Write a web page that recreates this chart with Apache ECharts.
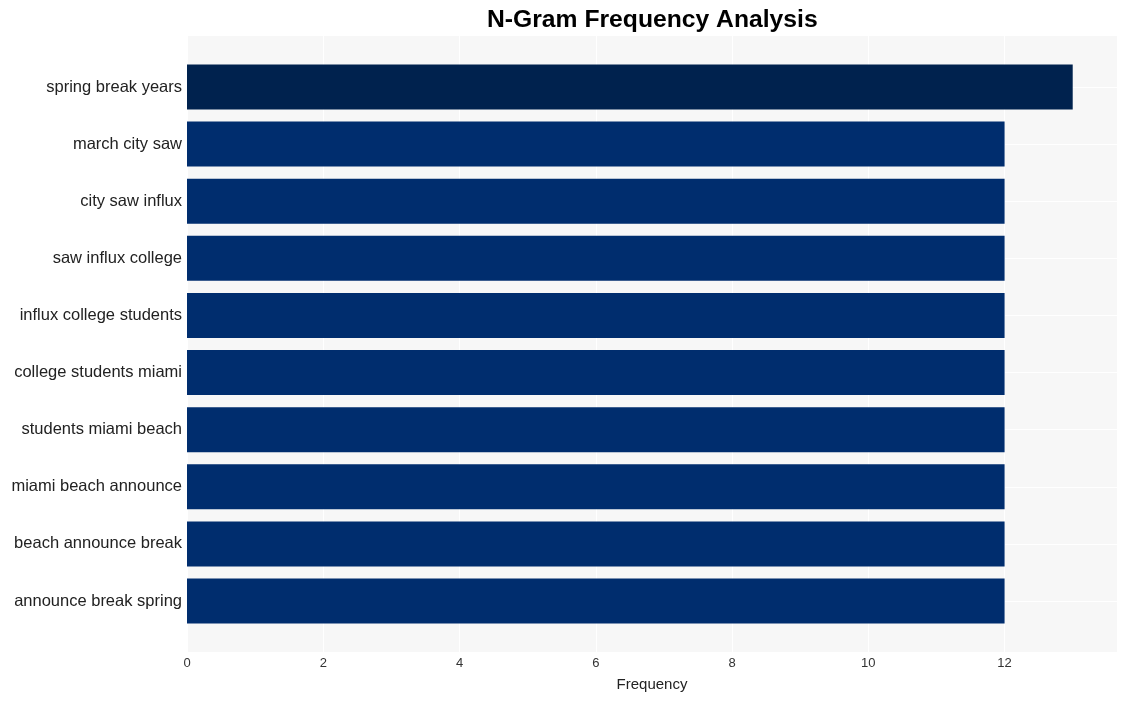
<!DOCTYPE html>
<html><head><meta charset="utf-8">
<script src="https://cdn.jsdelivr.net/npm/echarts@6/dist/echarts.min.js"></script>
<style>html,body{margin:0;padding:0;background:#fff}#c{width:1127px;height:701px}</style>
</head><body><div id="c"></div>
<script>
const categories = ["spring break years","march city saw","city saw influx","saw influx college","influx college students","college students miami","students miami beach","miami beach announce","beach announce break","announce break spring"];
const values = [13,12,12,12,12,12,12,12,12,12];
const xTicks = [0,2,4,6,8,10,12];
const xMin = 0, xMax = 13.65;

const FONT = 'Liberation Sans, Arial, sans-serif';
const chart = echarts.init(document.getElementById('c'));
chart.setOption({
  animation: false,
  backgroundColor: '#ffffff',
  title: {text: 'N-Gram Frequency Analysis', left: 487, top: 8, padding: 0,
    textStyle: {fontFamily: FONT, fontSize: 24.7, fontWeight: 'bold', color: '#000'}},
  grid: [
    {left: 187, right: 10, top: 36, bottom: 49, show: true, backgroundColor: '#f7f7f7', borderWidth: 0},
    {left: 187, right: 10, top: 87, bottom: 100, show: false}
  ],
  xAxis: [
    {gridIndex: 0, type: 'value', min: xMin, max: xMax, interval: 2,
     name: 'Frequency', nameLocation: 'middle', nameGap: 25,
     nameTextStyle: {fontFamily: FONT, fontSize: 15, color: '#222'},
     axisLine: {show: false}, axisTick: {show: false},
     axisLabel: {margin: 5, fontFamily: FONT, fontSize: 13, color: '#333',
       showMaxLabel: false, formatter: v => xTicks.includes(v) ? String(v) : ''},
     splitLine: {show: true, lineStyle: {color: '#ffffff', width: 1}}},
    {gridIndex: 1, type: 'value', min: xMin, max: xMax, show: false, splitLine: {show: false}}
  ],
  yAxis: [
    {gridIndex: 0, type: 'value', show: false, splitLine: {show: false}},
    {gridIndex: 1, type: 'category', data: categories, inverse: true, boundaryGap: false,
     axisLine: {show: false}, axisTick: {show: false},
     axisLabel: {margin: 5, fontFamily: FONT, fontSize: 16.5, color: '#222', padding: [2, 0, 0, 0]},
     splitLine: {show: true, lineStyle: {color: '#ffffff', width: 1}}}
  ],
  series: [{
    type: 'bar', xAxisIndex: 1, yAxisIndex: 1, barWidth: 45, clip: false, z: 3,
    data: values.map((v, i) => ({value: v, itemStyle: {color: i === 0 ? '#00224E' : '#002D6E'}}))
  }]
});
</script></body></html>
